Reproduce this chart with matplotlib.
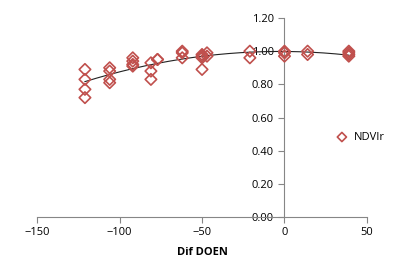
import matplotlib.pyplot as plt
import numpy as np

plt.rcParams['font.family'] = ['Open Sans', 'DejaVu Sans']

# Data
dif_doen = [-121, -121, -121, -121,
            -106, -106, -106, -106,
            -92, -92, -92, -92,
            -81, -81, -81, -77, -77,
            -62, -62, -62,
            -50, -50, -50, -50, -47, -47,
            -21, -21,
            0, 0, 0,
            14, 14,
            39, 39, 39, 39]
ndvir = [0.89, 0.83, 0.77, 0.72,
         0.90, 0.88, 0.83, 0.81,
         0.96, 0.94, 0.92, 0.91,
         0.93, 0.88, 0.83, 0.95, 0.95,
         1.00, 0.99, 0.96,
         0.98, 0.97, 0.96, 0.89, 0.99, 0.97,
         1.00, 0.96,
         1.00, 0.99, 0.97,
         1.00, 0.98,
         1.00, 0.99, 0.98, 0.97]

marker_color = '#C0504D'
axis_color = '#868686'

fig = plt.figure(figsize=(4.17, 2.73), dpi=100)
ax = fig.add_axes([0.089, 0.205, 0.791, 0.729])

# polynomial trend line (order 2), like the spreadsheet trendline
coef = np.polyfit(dif_doen, ndvir, 2)
xs = np.linspace(min(dif_doen), max(dif_doen), 200)
ax.plot(xs, np.polyval(coef, xs), color='#222222', linewidth=0.8, zorder=2)

ax.scatter(dif_doen, ndvir, marker='D', s=34, facecolors='none',
           edgecolors=marker_color, linewidths=1.2, label='NDVIr', zorder=3)

ax.set_xlim(-150, 50)
ax.set_ylim(0, 1.2)
ax.set_xticks([-150, -100, -50, 0, 50])
ax.set_yticks(np.arange(0, 1.21, 0.2))
ax.yaxis.set_major_formatter(plt.FormatStrFormatter('%.2f'))

ax.spines['top'].set_visible(False)
ax.spines['right'].set_visible(False)
ax.spines['left'].set_position(('data', 0))
ax.spines['bottom'].set_position(('data', 0))
ax.spines['left'].set_color(axis_color)
ax.spines['bottom'].set_color(axis_color)
ax.tick_params(colors=axis_color, labelcolor='black', labelsize=8, length=4, width=0.8)

ax.set_xlabel('Dif DOEN', fontsize=8, fontweight='bold', labelpad=6)

ax.legend(loc='center left', bbox_to_anchor=(0.86, 0.40), frameon=False,
          fontsize=8, handletextpad=0.1, markerscale=0.8)

fig.savefig('out.png', dpi=100)
